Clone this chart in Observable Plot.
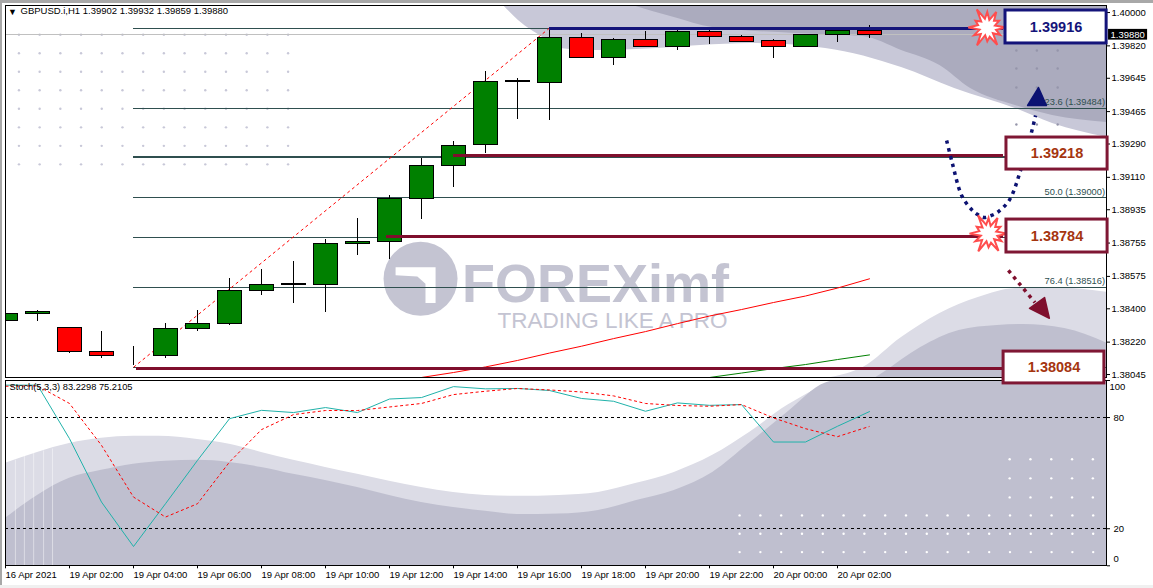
<!DOCTYPE html>
<html><head><meta charset="utf-8">
<script src="https://cdn.jsdelivr.net/npm/d3@7"></script>
<script src="https://cdn.jsdelivr.net/npm/@observablehq/plot@0.6"></script>
<style>
html,body{margin:0;padding:0;background:#fff;width:1153px;height:588px;overflow:hidden}
#strip-top{position:absolute;left:0;top:0;width:1153px;height:2.5px;background:#a8a8a8}
#strip-left{position:absolute;left:0;top:0;width:1.5px;height:588px;background:#a8a8a8}
#strip-bottom{position:absolute;left:0;top:585px;width:1153px;height:3px;background:#f0f0f0}
#stoch,#main{position:absolute;left:0}
#stoch{top:378px}#main{top:0}
</style></head><body>
<div id="strip-top"></div><div id="strip-left"></div><div id="strip-bottom"></div>
<div id="stoch"></div><div id="main"></div>
<script>
const FONT = "'Liberation Sans',Arial,sans-serif";
// ---- Candles (hourly bars, index 0..27)
const bars  = d3.range(28);
const open  = [1.38335,1.38373,1.38297,1.38168,1.38146,1.38146,1.38292,1.38317,1.38497,1.38529,1.38531,1.38751,1.38760,1.38994,1.39172,1.39283,1.39626,1.39618,1.39863,1.39753,1.39853,1.39815,1.39896,1.39869,1.39847,1.39815,1.39880,1.39902];
const high  = [1.38380,1.38391,1.38299,1.38277,1.38196,1.38319,1.38391,1.38564,1.38612,1.38655,1.38773,1.38888,1.39012,1.39213,1.39303,1.39681,1.39642,1.39917,1.39888,1.39860,1.39897,1.39908,1.39908,1.39876,1.39854,1.39880,1.39910,1.39932];
const low   = [1.38283,1.38333,1.38160,1.38133,1.38095,1.38133,1.38279,1.38311,1.38472,1.38430,1.38382,1.38689,1.38668,1.38884,1.39057,1.39237,1.39424,1.39417,1.39753,1.39715,1.39815,1.39795,1.39829,1.39840,1.39753,1.39815,1.39840,1.39859];
const close = [1.38373,1.38384,1.38168,1.38146,1.38146,1.38292,1.38319,1.38497,1.38529,1.38533,1.38751,1.38762,1.38994,1.39172,1.39280,1.39626,1.39631,1.39863,1.39753,1.39853,1.39815,1.39896,1.39869,1.39840,1.39815,1.39880,1.39902,1.39880];
// ---- Moving averages
const maRedBars = [13,14,15,16,17,18,19,20,21,22,23,24,25,26,27];
const maRed     = [1.38029,1.38056,1.38086,1.38121,1.38161,1.38198,1.38239,1.38277,1.38320,1.38361,1.38396,1.38434,1.38469,1.38512,1.38562];
const maGreenBars = [22,23,24,25,26,27];
const maGreen     = [1.38029,1.38053,1.38077,1.38099,1.38126,1.38151];
// ---- Fibonacci levels
const fibPrices = [1.39916,1.39484,1.39218,1.39000,1.38784,1.38516,1.38084];
const fibLabels = [[1.39484,"23.6 (1.39484)"],[1.39000,"50.0 (1.39000)"],[1.38516,"76.4 (1.38516)"]];
// ---- Axis ticks
const priceTicks = [1.40000,1.39820,1.39645,1.39465,1.39290,1.39110,1.38935,1.38755,1.38575,1.38400,1.38220,1.38045];
const timeTicks  = [0,2,4,6,8,10,12,14,16,18,20,22,24,26];
const timeLabels = ["16 Apr 2021","19 Apr 02:00","19 Apr 04:00","19 Apr 06:00","19 Apr 08:00","19 Apr 10:00","19 Apr 12:00","19 Apr 14:00","19 Apr 16:00","19 Apr 18:00","19 Apr 20:00","19 Apr 22:00","20 Apr 00:00","20 Apr 02:00"];
// ---- Stochastic
const stochMain   = [97.5,97.5,68.6,34.4,10.4,33.5,56.9,79.4,83.9,82.7,85.4,82.7,90,90.8,96.7,95.5,95.7,94.6,90.3,88.8,83.4,87.9,86.6,87,66.8,66.8,75.3,83.23];
const stochSignal = [96.9,97.1,87.6,65,37.1,26.3,33.5,56,73.5,81.6,83.8,83.8,85.7,87.6,92.4,94.2,95.7,94.9,93.8,91.7,87.6,86.5,86.1,87,79.8,74,69.7,75.21];
const stochLevels = [80,20];
// ---- Decorative background waves
const topLightX = [15.56,16.03,16.84,17.34,18.53,19.72,21.72,23.28,25.63,28,29.66,31.56,32.72,34.44];
const topLightY = [1.40038,1.39957,1.39860,1.39806,1.39795,1.39800,1.39822,1.39833,1.39806,1.39703,1.39590,1.39482,1.39401,1.39325];
const topDarkX  = [19.6,20.9,22.1,24.7,26.8,28,29.2,30.16,31.56,32.72,34.44];
const topDarkY  = [1.40038,1.39973,1.39919,1.39887,1.39870,1.39795,1.39714,1.39590,1.39498,1.39444,1.39406];
const botLightX = [25.8,26.8,28,29.2,30.4,31.56,32.7,34.44];
const botLightY = [1.38029,1.38083,1.38245,1.38375,1.38461,1.38510,1.38515,1.38488];
const botDarkX  = [27.2,27.4,28.6,29.8,31,31.8,33.1,34.44];
const botDarkY  = [1.38029,1.38051,1.38191,1.38283,1.38310,1.38315,1.38294,1.38213];
const stLightX = [0,1,2,3,4,4.8,6,7,8,9,10,11,12,13,14,15,16,17.3,18.53,19.72,20.9,22.1,23.25,24.44,25.63,26.1,34.44];
const stLightY = [55.3,61.2,66,68.8,69.9,69.9,68.2,65.6,61.2,56.9,53.1,49.4,45.6,42.3,39.6,38,37.5,38,39.6,44.5,50.4,59.6,72,86.6,97.5,100,100];
const stDarkX  = [0,1,2,3,4,5,6,7,8,9,10,11,12,13,14,15,16,17.3,18.53,19.72,20.9,22.1,23.25,24.44,25.63,26,34.44];
const stDarkY  = [25.6,38,47.2,51.5,54.8,56.4,56.9,55.8,53.1,49.4,46.1,42.3,38,34.2,31.5,29.4,27.7,28,29.9,35.3,40.7,50.4,66.1,82.9,98.6,100,100];
const stripeX = [0.31,0.59,0.88,1.19,1.47];
const stripeTop = [57,59,61,62,63];
// ---- Watermark logo
const logoX = [12.19,13.44,13.44,13.125,13.125,12.87,12.19,12.19];
const logoY = [1.38625,1.38625,1.38432,1.38432,1.38535,1.38574,1.38581,1.38625];
// ---- Dotted arrows
const navyX = [29.41,29.59,29.88,30.19,30.38,30.58,30.81,31.03,31.38,31.72,32.06,32.19];
const navyY = [1.39309,1.39185,1.39012,1.38936,1.38909,1.38893,1.38904,1.38925,1.38990,1.39147,1.39352,1.39444];
const navyHeadX = [32.28,31.94,32.53,32.28];
const navyHeadY = [1.39595,1.39498,1.39498,1.39595];
const wineX = [31.34,32.17];
const wineY = [1.38607,1.38434];
const wineHeadX = [32.62,32.0,32.47,32.62];
const wineHeadY = [1.38349,1.38402,1.38461,1.38349];
// ---- Price boxes
const boxes = [
  {x1:31.25,x2:34.41,y1:1.40011,y2:1.39833,label:"1.39916",stroke:"#14147a",color:"#14147a"},
  {x1:31.28,x2:34.44,y1:1.39325,y2:1.39152,label:"1.39218",stroke:"#7f1734",color:"#a5350f"},
  {x1:31.28,x2:34.44,y1:1.38882,y2:1.38704,label:"1.38784",stroke:"#7f1734",color:"#a5350f"},
  {x1:31.19,x2:34.34,y1:1.38169,y2:1.37997,label:"1.38084",stroke:"#7f1734",color:"#a5350f"}
];
const levelLines = [
  {x1:17,x2:31.2,y:1.39914,stroke:"#14147a"},
  {x1:14,x2:31.2,y:1.39230,stroke:"#7f0f2d"},
  {x1:11.9,x2:31.2,y:1.38789,stroke:"#7f0f2d"},
  {x1:4.1,x2:31.2,y:1.38076,stroke:"#7f0f2d"}
];
const bursts = [{x:30.68,y:1.39919},{x:30.72,y:1.38806}];
const burstSpikes = [1,.48,.78,.42,1.05,.5,.72,.42,1.08,.48,.8,.42,1,.5,.72,.45,1.1,.48,.82,.42,.95,.5,.72,.42];
const burstSymbol = {draw(ctx,size){
  const R=Math.sqrt(size/Math.PI);
  burstSpikes.forEach((s,k)=>{
    const a=k/burstSpikes.length*2*Math.PI, px=R*s*Math.cos(a), py=R*s*Math.sin(a);
    k?ctx.lineTo(px,py):ctx.moveTo(px,py);
  });
  ctx.closePath();
}};

const rows = (xs,ys)=>xs.map((x,i)=>({x,y:ys[i]}));
const XMAX = 34.406;
const cross = (xs,ys)=>d3.cross(xs,ys,(x,y)=>({x,y}));
const leftDots = cross(d3.range(14).map(k=>0.42+0.647*k),d3.range(8).map(k=>1.3988-0.001*k));
const rightDots = cross([31.59,32.23,32.88],[1.39795,1.39698,1.39595,1.39395]);
const stDots1 = cross(d3.range(18).map(k=>22.94+0.65*k),[27.2,17.3,7.4]);
const stDots2 = cross(d3.range(5).map(k=>31.38+0.65*k),[57.5,47.2,36.9]);

const candles = bars.map(i=>({i,o:open[i],h:high[i],l:low[i],c:close[i]}));
const candleFill = d=>d.c>d.o?"#008000":d.c<d.o?"#ff0000":"#000";
const crisp = {shapeRendering:"crispEdges"};

const main = Plot.plot({
  width:1153,height:380,marginLeft:5,marginRight:47,marginTop:5,marginBottom:3,
  style:{background:"transparent",overflow:"visible",fontFamily:FONT},
  x:{domain:[0,XMAX],axis:null},
  y:{domain:[1.38029,1.40038],axis:null},
  marks:[
    Plot.areaY(rows(topLightX,topLightY),{x:"x",y1:()=>1.40038,y2:"y",fill:"#c8c8d8",curve:"monotone-x",clip:true}),
    Plot.areaY(rows(topDarkX,topDarkY),{x:"x",y1:()=>1.40038,y2:"y",fill:"#ababbe",curve:"monotone-x",clip:true}),
    Plot.areaY(rows(botLightX,botLightY),{x:"x",y1:()=>1.38029,y2:"y",fill:"#dcdce6",curve:"monotone-x",clip:true}),
    Plot.areaY(rows(botDarkX,botDarkY),{x:"x",y1:()=>1.38029,y2:"y",fill:"#bfbfcf",curve:"monotone-x",clip:true}),
    Plot.dot(leftDots,{x:"x",y:"y",r:1.2,fill:"#c8c8d8"}),
    Plot.dot(rightDots,{x:"x",y:"y",r:1.2,fill:"#9595aa"}),
    // watermark
    Plot.dot([{x:12.97,y:1.38562}],{x:"x",y:"y",r:37,fill:"#c4c4d2"}),
    Plot.line(rows(logoX,logoY),{x:"x",y:"y",fill:"#fff",stroke:"none"}),
    Plot.text([{x:18.44,y:1.38528}],{x:"x",y:"y",text:()=>"FOREXimf",fontSize:54,fontWeight:"bold",fill:"#c4c4d2"}),
    Plot.text([{x:18.97,y:1.38337}],{x:"x",y:"y",text:()=>"TRADING LIKE A PRO",fontSize:22.5,fill:"#c4c4d2"}),
    // current price line
    Plot.ruleY([close[27]],{x1:0,x2:XMAX,stroke:"#c0c0c0",...crisp}),
    // fib
    Plot.ruleY(fibPrices,{x1:4,x2:XMAX,y:d=>d,stroke:"#2f4f4f",strokeWidth:d=>d===1.39218?2:1,...crisp}),
    Plot.line(rows([4,17],[1.38084,1.39916]),{x:"x",y:"y",stroke:"#ff0000",strokeWidth:1,strokeDasharray:"3 3",strokeLinecap:"butt"}),
    Plot.text(fibLabels,{x:()=>34.36,y:d=>d[0],text:d=>d[1],textAnchor:"end",dy:-6,fontSize:9.3,fill:"#2f4f4f"}),
    // moving averages
    Plot.line(rows(maRedBars,maRed),{x:"x",y:"y",stroke:"#ff0000",strokeWidth:1,clip:true}),
    Plot.line(rows(maGreenBars,maGreen),{x:"x",y:"y",stroke:"#008000",strokeWidth:1,clip:true}),
    // candles
    Plot.ruleX(candles,{x:"i",y1:"l",y2:"h",stroke:"#000",strokeWidth:1,...crisp}),
    Plot.rect(candles,{x1:d=>d.i-0.375,x2:d=>d.i+0.375,y1:"o",y2:"c",fill:candleFill,stroke:"#000",strokeWidth:1,clip:true,...crisp}),
    // levels
    Plot.ruleY(levelLines,{x1:"x1",x2:"x2",y:"y",stroke:"stroke",strokeWidth:3,...crisp}),
    // arrows
    Plot.line(rows(navyX,navyY),{x:"x",y:"y",stroke:"#0c1272",strokeWidth:3.5,strokeDasharray:"3.5 4.5",strokeLinecap:"butt",curve:"catmull-rom"}),
    Plot.line(rows(navyHeadX,navyHeadY),{x:"x",y:"y",fill:"#0c1272",stroke:"#0c1272"}),
    Plot.line(rows(wineX,wineY),{x:"x",y:"y",stroke:"#7f0f2d",strokeWidth:3.5,strokeDasharray:"3.5 4.5",strokeLinecap:"butt"}),
    Plot.line(rows(wineHeadX,wineHeadY),{x:"x",y:"y",fill:"#7f0f2d",stroke:"#7f0f2d"}),
    // frame and axis
    Plot.frame({stroke:"#000",...crisp}),
    Plot.axisY({anchor:"right",ticks:priceTicks,tickFormat:d3.format(".5f"),tickSize:3,tickPadding:2,fontSize:9.5,label:null,stroke:"#000"}),
    // price tag
    Plot.rect([{}],{x1:()=>34.47,x2:()=>35.69,y1:()=>1.39909,y2:()=>1.39851,fill:"#000"}),
    Plot.text([close[27]],{x:()=>34.53,y:d=>d,text:d=>d.toFixed(5),textAnchor:"start",fill:"#fff",fontSize:9.5}),
    // bursts and boxes
    Plot.dot(bursts,{x:"x",y:"y",r:19,symbol:burstSymbol,fill:"#fff",stroke:"#ff4d4d",strokeWidth:2}),
    Plot.rect(boxes,{x1:"x1",x2:"x2",y1:"y1",y2:"y2",fill:"#fff",stroke:"stroke",strokeWidth:3}),
    Plot.text(boxes,{x:d=>(d.x1+d.x2)/2,y:d=>(d.y1+d.y2)/2,text:"label",fill:"color",fontSize:14.5,fontWeight:"bold"}),
    // header
    Plot.text(["▼"],{frameAnchor:"top-left",dx:2.5,dy:3,fontSize:9,fill:"#000",text:d=>d,textAnchor:"start",lineAnchor:"top"}),
    Plot.text(["GBPUSD.i,H1 1.39902 1.39932 1.39859 1.39880"],{frameAnchor:"top-left",dx:15,dy:2,fontSize:9.5,fill:"#000",text:d=>d,textAnchor:"start",lineAnchor:"top"})
  ]
});
document.getElementById("main").append(main);

const stoch = Plot.plot({
  width:1153,height:210,marginLeft:5,marginRight:47,marginTop:2,marginBottom:22.7,
  style:{background:"transparent",fontFamily:FONT},
  x:{domain:[0,XMAX],axis:null},
  y:{domain:[0,100],axis:null},
  marks:[
    Plot.areaY(rows(stLightX,stLightY),{x:"x",y1:()=>0,y2:"y",fill:"#dcdce6",curve:"monotone-x",clip:true}),
    Plot.areaY(rows(stDarkX,stDarkY),{x:"x",y1:()=>0,y2:"y",fill:"#bfbfcf",curve:"monotone-x",clip:true}),
    Plot.ruleX(stripeX.map((x,i)=>({x,t:stripeTop[i]})),{x:"x",y1:()=>0,y2:"t",stroke:"#fff",strokeOpacity:0.45}),
    Plot.dot(stDots1,{x:"x",y:"y",r:1.2,fill:"#fff"}),
    Plot.dot(stDots2,{x:"x",y:"y",r:1.2,fill:"#fff"}),
    Plot.ruleY(stochLevels,{stroke:"#000",strokeDasharray:"3 3",...crisp}),
    Plot.line(bars,{x:d=>d,y:d=>stochMain[d],stroke:"#20b2aa",strokeWidth:1}),
    Plot.line(bars,{x:d=>d,y:d=>stochSignal[d],stroke:"#ff0000",strokeDasharray:"3 2.5",strokeLinecap:"butt",strokeWidth:1}),
    Plot.frame({stroke:"#000",...crisp}),
    Plot.axisY({anchor:"right",ticks:[100,80,20,0],tickFormat:()=>"",tickSize:3,label:null}),
    Plot.text([80,20],{y:d=>d,text:d=>String(d),frameAnchor:"right",textAnchor:"start",dx:7,fontSize:9.5,fill:"#000"}),
    Plot.text([100],{y:d=>d,text:d=>String(d),frameAnchor:"right",textAnchor:"start",dx:3,dy:6,fontSize:9.5,fill:"#000"}),
    Plot.text([0],{y:d=>d,text:d=>String(d),frameAnchor:"right",textAnchor:"start",dx:7,dy:-7,fontSize:9.5,fill:"#000"}),
    Plot.axisX({anchor:"bottom",ticks:timeTicks,tickFormat:d=>timeLabels[timeTicks.indexOf(d)],tickSize:3,tickPadding:2,textAnchor:"start",fontSize:9.5,label:null,fill:"#000"}),
    Plot.text(["Stoch(5,3,3) 83.2298 75.2105"],{frameAnchor:"top-left",dx:4,dy:3,fontSize:9.3,fill:"#000",text:d=>d,textAnchor:"start",lineAnchor:"top"})
  ]
});
document.getElementById("stoch").append(stoch);
</script>
</body></html>
